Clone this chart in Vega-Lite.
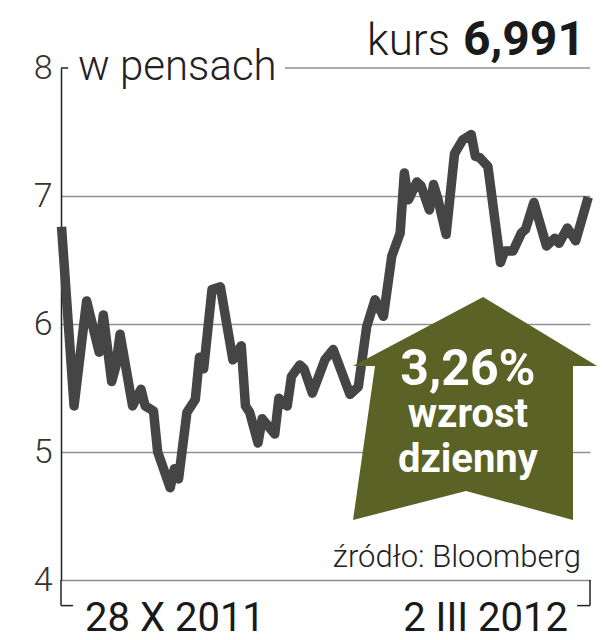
{
  "$schema": "https://vega.github.io/schema/vega-lite/v6.json",
  "width": 529,
  "height": 512,
  "autosize": {"type": "none"},
  "padding": {"left": 61, "top": 68, "right": 15, "bottom": 60},
  "background": "white",
  "config": {"view": {"stroke": null}, "font": "Roboto"},
  "datasets": {
    "price": [
      {"date": "2011-10-28", "value": 6.76},
      {"date": "2011-10-31", "value": 5.36},
      {"date": "2011-11-03", "value": 6.18},
      {"date": "2011-11-06", "value": 5.78},
      {"date": "2011-11-07", "value": 6.07},
      {"date": "2011-11-09", "value": 5.55},
      {"date": "2011-11-10", "value": 5.67},
      {"date": "2011-11-11", "value": 5.92},
      {"date": "2011-11-14", "value": 5.36},
      {"date": "2011-11-16", "value": 5.49},
      {"date": "2011-11-17", "value": 5.36},
      {"date": "2011-11-19", "value": 5.32},
      {"date": "2011-11-20", "value": 5.0},
      {"date": "2011-11-23", "value": 4.72},
      {"date": "2011-11-24", "value": 4.87},
      {"date": "2011-11-25", "value": 4.79},
      {"date": "2011-11-27", "value": 5.31},
      {"date": "2011-11-29", "value": 5.41},
      {"date": "2011-11-30", "value": 5.74},
      {"date": "2011-12-01", "value": 5.65},
      {"date": "2011-12-03", "value": 6.27},
      {"date": "2011-12-05", "value": 6.29},
      {"date": "2011-12-08", "value": 5.72},
      {"date": "2011-12-10", "value": 5.83},
      {"date": "2011-12-11", "value": 5.36},
      {"date": "2011-12-12", "value": 5.31},
      {"date": "2011-12-14", "value": 5.07},
      {"date": "2011-12-15", "value": 5.26},
      {"date": "2011-12-18", "value": 5.14},
      {"date": "2011-12-19", "value": 5.42},
      {"date": "2011-12-21", "value": 5.36},
      {"date": "2011-12-22", "value": 5.59},
      {"date": "2011-12-24", "value": 5.68},
      {"date": "2011-12-25", "value": 5.65},
      {"date": "2011-12-27", "value": 5.46},
      {"date": "2011-12-30", "value": 5.72},
      {"date": "2012-01-01", "value": 5.8},
      {"date": "2012-01-05", "value": 5.45},
      {"date": "2012-01-07", "value": 5.51},
      {"date": "2012-01-09", "value": 5.98},
      {"date": "2012-01-11", "value": 6.19},
      {"date": "2012-01-13", "value": 6.06},
      {"date": "2012-01-15", "value": 6.53},
      {"date": "2012-01-17", "value": 6.71},
      {"date": "2012-01-18", "value": 7.18},
      {"date": "2012-01-19", "value": 6.97},
      {"date": "2012-01-21", "value": 7.11},
      {"date": "2012-01-22", "value": 7.08},
      {"date": "2012-01-24", "value": 6.89},
      {"date": "2012-01-25", "value": 7.09},
      {"date": "2012-01-26", "value": 6.98},
      {"date": "2012-01-28", "value": 6.7},
      {"date": "2012-01-30", "value": 7.33},
      {"date": "2012-02-01", "value": 7.44},
      {"date": "2012-02-03", "value": 7.48},
      {"date": "2012-02-04", "value": 7.31},
      {"date": "2012-02-05", "value": 7.3},
      {"date": "2012-02-07", "value": 7.23},
      {"date": "2012-02-10", "value": 6.48},
      {"date": "2012-02-11", "value": 6.57},
      {"date": "2012-02-13", "value": 6.57},
      {"date": "2012-02-15", "value": 6.71},
      {"date": "2012-02-16", "value": 6.74},
      {"date": "2012-02-18", "value": 6.95},
      {"date": "2012-02-21", "value": 6.61},
      {"date": "2012-02-23", "value": 6.67},
      {"date": "2012-02-24", "value": 6.63},
      {"date": "2012-02-26", "value": 6.75},
      {"date": "2012-02-28", "value": 6.65},
      {"date": "2012-03-02", "value": 6.991}
    ]
  },
  "layer": [
    {
      "data": {"name": "price", "format": {"parse": {"date": "utc:'%Y-%m-%d'"}}},
      "mark": {"type": "line", "color": "#454545", "strokeWidth": 9.5, "strokeJoin": "round", "strokeCap": "butt"},
      "encoding": {
        "x": {
          "field": "date", "type": "temporal",
          "scale": {"type": "utc", "domain": [
            {"year": 2011, "month": 10, "date": 27, "hours": 21, "utc": true},
            {"year": 2012, "month": 3, "date": 2, "hours": 10, "utc": true}
          ]},
          "axis": {"title": null, "labels": false, "ticks": false, "grid": false, "domain": true, "domainColor": "#8a8a8a", "domainWidth": 1.5}
        },
        "y": {
          "field": "value", "type": "quantitative",
          "scale": {"domain": [4, 8], "nice": false, "zero": false},
          "axis": {
            "title": null, "values": [4, 5, 6, 7, 8], "format": "d", "ticks": false, "labelPadding": 9,
            "labelFont": "Roboto", "labelFontWeight": 300, "labelFontSize": 34, "labelColor": "#333333",
            "labelBaseline": "middle",
            "domain": true, "domainColor": "#222222", "domainWidth": 1.5,
            "grid": true, "gridColor": "#8f8f8f", "gridWidth": 1.5,
            "gridOpacity": {"condition": {"test": "datum.value === 4 || datum.value === 8", "value": 0}, "value": 1}
          }
        }
      }
    },
    {
      "data": {"values": [{}]},
      "mark": {"type": "rule", "color": "#8f8f8f", "strokeWidth": 1.5},
      "encoding": {
        "x": {"datum": {"year": 2011, "month": 12, "date": 20, "hours": 11, "utc": true}, "type": "temporal"},
        "x2": {"datum": {"year": 2012, "month": 3, "date": 2, "hours": 10, "utc": true}},
        "y": {"datum": 8, "type": "quantitative"}
      }
    },
    {
      "data": {"values": [{}]},
      "mark": {"type": "rule", "color": "#222222", "strokeWidth": 1.5},
      "encoding": {
        "x": {"datum": {"year": 2011, "month": 10, "date": 27, "hours": 21, "utc": true}, "type": "temporal"},
        "x2": {"datum": {"year": 2011, "month": 10, "date": 29, "hours": 14, "utc": true}},
        "y": {"datum": 8, "type": "quantitative"}
      }
    },
    {
      "data": {"values": [{}]},
      "mark": {"type": "rule", "color": "#222222", "strokeWidth": 1.5},
      "encoding": {
        "x": {"datum": {"year": 2011, "month": 10, "date": 27, "hours": 21, "utc": true}, "type": "temporal"},
        "y": {"datum": 4, "type": "quantitative"},
        "y2": {"datum": 3.8}
      }
    },
    {
      "data": {"values": [{}]},
      "mark": {"type": "rule", "color": "#222222", "strokeWidth": 1.5},
      "encoding": {
        "x": {"datum": {"year": 2011, "month": 10, "date": 27, "hours": 21, "utc": true}, "type": "temporal"},
        "x2": {"datum": {"year": 2011, "month": 10, "date": 30, "hours": 18, "utc": true}},
        "y": {"datum": 3.8, "type": "quantitative"}
      }
    },
    {
      "data": {"values": [{}]},
      "mark": {"type": "rule", "color": "#222222", "strokeWidth": 1.5},
      "encoding": {
        "x": {"datum": {"year": 2012, "month": 3, "date": 2, "hours": 10, "utc": true}, "type": "temporal"},
        "y": {"datum": 4, "type": "quantitative"},
        "y2": {"datum": 3.8}
      }
    },
    {
      "data": {"values": [{}]},
      "mark": {"type": "rule", "color": "#222222", "strokeWidth": 1.5},
      "encoding": {
        "x": {"datum": {"year": 2012, "month": 2, "date": 28, "hours": 8, "utc": true}, "type": "temporal"},
        "x2": {"datum": {"year": 2012, "month": 3, "date": 2, "hours": 10, "utc": true}},
        "y": {"datum": 3.8, "type": "quantitative"}
      }
    },
    {
      "data": {"values": [{}]},
      "mark": {
        "type": "point",
        "shape": "M0.066,-0.914L1,-0.348L0.803,-0.348L0.803,0.914L-0.074,0.676L-1,0.914L-0.82,-0.348L-1,-0.348Z",
        "size": 59536, "filled": true, "color": "#5a6226", "opacity": 1, "strokeWidth": 0
      },
      "encoding": {
        "x": {"datum": {"year": 2012, "month": 2, "date": 3, "hours": 22, "utc": true}, "type": "temporal"},
        "y": {"datum": 5.34, "type": "quantitative"}
      }
    },
    {
      "data": {"values": [{}]},
      "mark": {"type": "text", "text": "3,26%", "font": "Roboto", "fontWeight": "bold", "fontSize": 50, "color": "white", "align": "center", "baseline": "alphabetic"},
      "encoding": {
        "x": {"datum": {"year": 2012, "month": 2, "date": 2, "hours": 5, "utc": true}, "type": "temporal"},
        "y": {"datum": 5.52, "type": "quantitative"}
      }
    },
    {
      "data": {"values": [{}]},
      "mark": {"type": "text", "text": "wzrost", "font": "Roboto", "fontWeight": "bold", "fontSize": 40, "color": "white", "align": "center", "baseline": "alphabetic"},
      "encoding": {
        "x": {"datum": {"year": 2012, "month": 2, "date": 2, "hours": 5, "utc": true}, "type": "temporal"},
        "y": {"datum": 5.195, "type": "quantitative"}
      }
    },
    {
      "data": {"values": [{}]},
      "mark": {"type": "text", "text": "dzienny", "font": "Roboto", "fontWeight": "bold", "fontSize": 40, "color": "white", "align": "center", "baseline": "alphabetic"},
      "encoding": {
        "x": {"datum": {"year": 2012, "month": 2, "date": 2, "hours": 5, "utc": true}, "type": "temporal"},
        "y": {"datum": 4.844, "type": "quantitative"}
      }
    },
    {
      "data": {"values": [{}]},
      "mark": {"type": "text", "text": "w pensach", "font": "Roboto", "fontWeight": 300, "fontSize": 42, "color": "#222222", "align": "left", "baseline": "alphabetic"},
      "encoding": {
        "x": {"datum": {"year": 2011, "month": 10, "date": 31, "hours": 23, "utc": true}, "type": "temporal"},
        "y": {"datum": 7.906, "type": "quantitative"}
      }
    },
    {
      "data": {"values": [{}]},
      "mark": {"type": "text", "text": "6,991", "font": "Roboto", "fontWeight": "bold", "fontSize": 48, "color": "#1a1a1a", "align": "right", "baseline": "alphabetic"},
      "encoding": {
        "x": {"datum": {"year": 2012, "month": 3, "date": 1, "hours": 5, "utc": true}, "type": "temporal"},
        "y": {"datum": 8.102, "type": "quantitative"}
      }
    },
    {
      "data": {"values": [{}]},
      "mark": {"type": "text", "text": "kurs", "font": "Roboto", "fontWeight": 300, "fontSize": 44, "color": "#1a1a1a", "align": "right", "baseline": "alphabetic"},
      "encoding": {
        "x": {"datum": {"year": 2012, "month": 1, "date": 28, "hours": 22, "utc": true}, "type": "temporal"},
        "y": {"datum": 8.102, "type": "quantitative"}
      }
    },
    {
      "data": {"values": [{}]},
      "mark": {"type": "text", "text": "źródło: Bloomberg", "font": "Roboto", "fontWeight": 300, "fontSize": 31, "color": "#222222", "align": "right", "baseline": "alphabetic"},
      "encoding": {
        "x": {"datum": {"year": 2012, "month": 2, "date": 29, "hours": 6, "utc": true}, "type": "temporal"},
        "y": {"datum": 4.1, "type": "quantitative"}
      }
    },
    {
      "data": {"values": [{}]},
      "mark": {"type": "text", "text": "28 X 2011", "font": "Roboto", "fontSize": 40, "color": "#1a1a1a", "align": "left", "baseline": "alphabetic"},
      "encoding": {
        "x": {"datum": {"year": 2011, "month": 11, "date": 2, "hours": 15, "utc": true}, "type": "temporal"},
        "y": {"datum": 3.6, "type": "quantitative"}
      }
    },
    {
      "data": {"values": [{}]},
      "mark": {"type": "text", "text": "2 III 2012", "font": "Roboto", "fontSize": 40, "color": "#1a1a1a", "align": "right", "baseline": "alphabetic"},
      "encoding": {
        "x": {"datum": {"year": 2012, "month": 2, "date": 26, "hours": 4, "utc": true}, "type": "temporal"},
        "y": {"datum": 3.6, "type": "quantitative"}
      }
    }
  ]
}
